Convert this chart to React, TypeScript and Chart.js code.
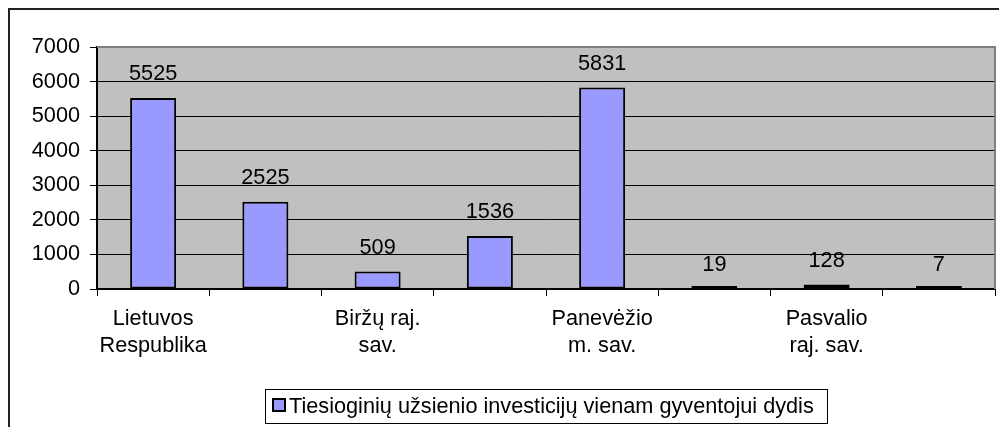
import React, { useEffect, useRef } from "react";
import { Chart, registerables } from "chart.js";

Chart.register(...registerables);

const categories: string[][] = [
  ["Lietuvos", "Respublika"],
  ["Panevėžio", "apskritis"],
  ["Biržų raj.", "sav."],
  ["Kupiškio raj.", "sav."],
  ["Panevėžio", "m. sav."],
  ["Panevėžio", "raj. sav."],
  ["Pasvalio", "raj. sav."],
  ["Rokiškio", "raj. sav."],
];
const shownLabelIndexes = [0, 2, 4, 6];
const values = [5525, 2525, 509, 1536, 5831, 19, 128, 7];
const seriesLabel = "Tiesioginių užsienio investicijų vienam gyventojui dydis";
const yMin = 0;
const yMax = 7000;
const yStep = 1000;

const FONT_FAMILY = "'Liberation Sans', Arial, sans-serif";
const FONT_SIZE = 21.7;
const BAR_COLOR = "#9999FF";
const PLOT_BG = "#C0C0C0";

const decorPlugin = {
  id: "excelDecor",
  beforeDraw(chart: any) {
    const { ctx, chartArea: a } = chart;
    ctx.save();
    ctx.fillStyle = PLOT_BG;
    ctx.fillRect(a.left, a.top, a.right - a.left, a.bottom - a.top);
    ctx.restore();
  },
  afterDatasetsDraw(chart: any) {
    const { ctx, chartArea: a } = chart;
    ctx.save();
    // gray plot border (top and right)
    ctx.strokeStyle = "#808080";
    ctx.lineWidth = 2;
    ctx.beginPath();
    ctx.moveTo(a.left, a.top);
    ctx.lineTo(a.right, a.top);
    ctx.lineTo(a.right, a.bottom);
    ctx.stroke();
    // value labels
    const meta = chart.getDatasetMeta(0);
    const yScale = chart.scales.y;
    ctx.fillStyle = "#000";
    ctx.font = `${FONT_SIZE}px ${FONT_FAMILY}`;
    ctx.textAlign = "center";
    ctx.textBaseline = "alphabetic";
    meta.data.forEach((el: any, i: number) => {
      const v = chart.data.datasets[0].data[i];
      const top = yScale.getPixelForValue(v);
      ctx.fillText(String(v), el.x, top - 17.5);
    });
    ctx.restore();
  },
  afterDraw(chart: any) {
    const { ctx, chartArea: a } = chart;
    ctx.save();
    ctx.font = `${FONT_SIZE}px ${FONT_FAMILY}`;
    const label = chart.data.datasets[0].label;
    const tw = ctx.measureText(label).width;
    const padL = 7;
    const sq = 14;
    const gap = 3;
    const padR = 13;
    const total = padL + sq + gap + tw + padR;
    const cx = (a.left + a.right) / 2;
    const left = Math.round(cx - total / 2);
    const top = a.bottom + 100;
    const h = 34;
    ctx.fillStyle = "#fff";
    ctx.fillRect(left, top, total, h);
    ctx.strokeStyle = "#000";
    ctx.lineWidth = 1;
    ctx.strokeRect(left + 0.5, top + 0.5, Math.round(total), h);
    // square
    ctx.fillStyle = BAR_COLOR;
    ctx.fillRect(left + padL + 1, top + 10, sq - 2, sq - 2);
    ctx.lineWidth = 2;
    ctx.strokeStyle = "#000";
    ctx.strokeRect(left + padL + 1, top + 10, sq - 2, sq - 2);
    // text
    ctx.fillStyle = "#000";
    ctx.textAlign = "left";
    ctx.textBaseline = "alphabetic";
    ctx.fillText(label, left + padL + sq + gap, top + 24);
    ctx.restore();
  },
};

export default function App() {
  const canvasRef = useRef<HTMLCanvasElement | null>(null);

  useEffect(() => {
    const canvas = canvasRef.current;
    if (!canvas) return;
    const font = { family: FONT_FAMILY, size: FONT_SIZE, lineHeight: 1.24 };
    const chart = new Chart(canvas, {
      type: "bar",
      data: {
        labels: categories,
        datasets: [
          {
            label: seriesLabel,
            data: values,
            backgroundColor: BAR_COLOR,
            borderColor: "#000",
            borderWidth: 2,
            borderSkipped: false,
            minBarLength: 3,
            barPercentage: 0.41,
            categoryPercentage: 1,
          },
        ],
      },
      options: {
        responsive: false,
        animation: false,
        devicePixelRatio: 1,
        layout: { padding: { top: 37, right: 12, bottom: 48, left: 0 } },
        plugins: {
          legend: { display: false },
          tooltip: { enabled: false },
          title: { display: false },
        },
        scales: {
          x: {
            type: "category",
            offset: true,
            grid: {
              display: true,
              drawOnChartArea: false,
              drawTicks: true,
              tickLength: 7,
              color: "#000",
              lineWidth: 1,
              offset: true,
            },
            border: { display: true, color: "#000", width: 2 },
            ticks: {
              autoSkip: false,
              maxRotation: 0,
              minRotation: 0,
              padding: 10,
              color: "#000",
              font,
              callback: (_v: any, i: number) =>
                shownLabelIndexes.includes(i) ? categories[i] : "",
            },
            afterFit: (s: any) => {
              s.height = 90;
            },
          },
          y: {
            min: yMin,
            max: yMax,
            ticks: {
              stepSize: yStep,
              padding: 10,
              color: "#000",
              font,
              callback: (v: any) => String(v),
            },
            grid: {
              color: "#000",
              lineWidth: 1,
              drawTicks: true,
              tickLength: 7,
            },
            border: { display: true, color: "#000", width: 2 },
            afterFit: (s: any) => {
              s.width = 87;
            },
          },
        },
      },
      plugins: [decorPlugin],
    });
    return () => chart.destroy();
  }, []);

  return (
    <div
      style={{
        width: 999,
        height: 419,
        boxSizing: "border-box",
        borderLeft: "2px solid #222",
        borderTop: "2px solid #222",
        background: "#fff",
        overflow: "hidden",
      }}
    >
      <canvas ref={canvasRef} width={997} height={417} style={{ display: "block" }} />
    </div>
  );
}
